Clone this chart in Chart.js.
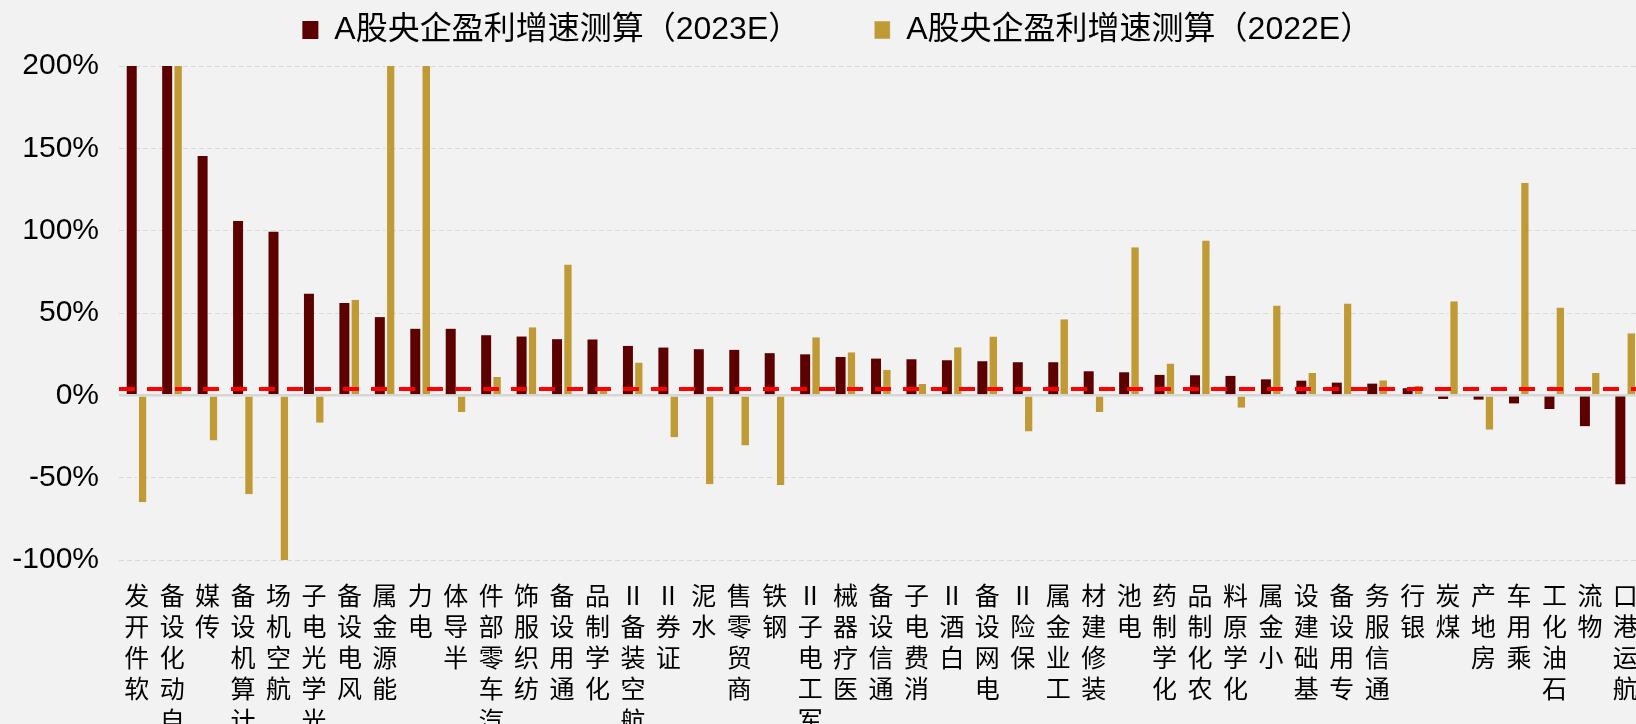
<!DOCTYPE html>
<html lang="zh-CN">
<head>
<meta charset="utf-8">
<title>A股央企盈利增速测算</title>
<script src="https://cdn.jsdelivr.net/npm/chart.js@4.4.1/dist/chart.umd.min.js"></script>
<style>
  html, body { margin: 0; padding: 0; background: #F2F2F2; overflow: hidden; }
  /* plot runs a bit past the right edge, like the original */
  .chart-wrap { position: relative; width: 1660px; height: 724px; }
</style>
</head>
<body>
<div class="chart-wrap"><canvas id="profit-growth-chart"></canvas></div>
<script>
// Industry list, in the order of the 2023E growth
const categories = [
  '软件开发', '自动化设备', '传媒', '计算机设备', '航空机场', '光学光电子', '风电设备', '能源金属',
  '电力', '半导体', '汽车零部件', '纺织服饰', '通用设备', '化学制品', '航空装备Ⅱ', '证券Ⅱ',
  '水泥', '商贸零售', '钢铁', '军工电子Ⅱ', '医疗器械', '通信设备', '消费电子', '白酒Ⅱ',
  '电网设备', '保险Ⅱ', '工业金属', '装修建材', '电池', '化学制药', '农化制品', '化学原料',
  '小金属', '基础建设', '专用设备', '通信服务', '银行', '煤炭', '房地产', '乘用车',
  '石油化工', '物流', '航运港口'
];

// growth, %  (bars above 200 / below -100 are cut off by the axis, values estimated)
const growth2023 = [
  230, 210, 145.3, 105.8, 99.4, 61.7, 56, 47.5,
  40.4, 40.4, 36.5, 35.7, 34.1, 33.9, 30, 29,
  28, 27.6, 25.6, 24.9, 23.3, 22.3, 21.9, 21.3,
  20.7, 20.1, 20.1, 14.6, 14, 12.4, 12.2, 11.8,
  9.7, 8.9, 7.7, 7.1, 4.3, -2.2, -2.6, -4.9,
  -8.3, -18.7, -54
];
const growth2022 = [
  -65, 220, -27.4, -60, -102, -16.6, 58, 240,
  250, -10.1, 11.2, 41.4, 79.5, 3, 19.9, -25.4,
  -54, -30.4, -54.4, 35.3, 26.2, 15.6, 6.9, 29.2,
  35.7, -21.9, 46.2, -10.1, 89.9, 19.3, 94.1, -7.5,
  54.5, 13.6, 55.7, 9.1, 5.7, 57.1, -20.9, 128.9,
  53.3, 13.6, 37.7
];
const refLevel = 4; // red dashed line

const yMin = -100, yMax = 200, yStep = 50;

const FONT = "'Liberation Sans', 'Noto Sans CJK SC', sans-serif";
const DARK_RED = '#5C0000';
const GOLD = '#C09A35';
const BG = '#F2F2F2';
const CAT_PCT = 20 / 35.5; // two ~10px bars in a ~35.5px slot

// legend: extra room below it, and nudged a little to the right
const legendPlacement = {
    id: 'legendPlacement',
    beforeInit(chart) {
        const fit = chart.legend.fit;
        chart.legend.fit = function () {
            fit.call(this);
            this.height += 10;
        };
    },
    afterLayout(chart) {
        chart.legend.left += 14.5;
        chart.legend.right += 14.5;
    }
};

const ctx = document.getElementById('profit-growth-chart');
new Chart(ctx, {
    type: 'bar',
    data: {
        labels: categories,
        datasets: [
            { label: 'A股央企盈利增速测算（2023E）', data: growth2023, backgroundColor: DARK_RED,
              categoryPercentage: CAT_PCT, barPercentage: 1 },
            { label: 'A股央企盈利增速测算（2022E）', data: growth2022, backgroundColor: GOLD,
              categoryPercentage: CAT_PCT, barPercentage: 0.95,
              borderWidth: { left: 2, right: 0, top: 0, bottom: 0 }, borderColor: BG, borderSkipped: false }
        ]
    },
    options: {
        responsive: true,
        maintainAspectRatio: false,
        animation: false,
        events: [],
        layout: { padding: { top: -60, right: 14.5, left: 0, bottom: 0 } },
        scales: {
            x: {
                offset: true,
                grid: { display: false, drawTicks: false },
                border: { display: false },
                ticks: {
                    color: '#000', autoSkip: false, maxRotation: 0, minRotation: 0, padding: 22,
                    font: { family: FONT, size: 25, lineHeight: 1.25 },
                    callback(value) { return Array.from(this.getLabelForValue(value)).reverse(); }
                },
                afterFit(axis) { axis.height = 164; }
            },
            y: {
                min: yMin, max: yMax,
                grid: {
                    drawTicks: false,
                    color: c => c.tick && c.tick.value === 0 ? '#D6D6D6' : '#D9D9D9',
                    lineWidth: c => c.tick && c.tick.value === 0 ? 2.5 : 1
                },
                border: { display: false, dash: c => c.tick && c.tick.value === 0 ? [] : [5, 3] },
                ticks: {
                    stepSize: yStep, color: '#000', padding: 20,
                    font: { family: FONT, size: 30 },
                    callback: v => v + '%'
                },
                afterFit(axis) { axis.width = 119; }
            },
            // same range as y, only used for the red dashed reference line (drawn over the bars)
            yRef: {
                type: 'linear', axis: 'y', position: 'left', min: yMin, max: yMax,
                afterBuildTicks(axis) { axis.ticks = [{ value: refLevel }]; },
                grid: { color: '#FF0000', lineWidth: 4, drawTicks: false, z: 1 },
                border: { display: false, dash: [16, 12] },
                ticks: { display: false },
                afterFit(axis) { axis.width = 0; }
            }
        },
        plugins: {
            legend: {
                position: 'top',
                labels: {
                    color: '#000', boxWidth: 16, boxHeight: 18, padding: 74,
                    font: { family: FONT, size: 32 }
                }
            },
            tooltip: { enabled: false }
        }
    },
    plugins: [legendPlacement]
});
</script>
</body>
</html>
